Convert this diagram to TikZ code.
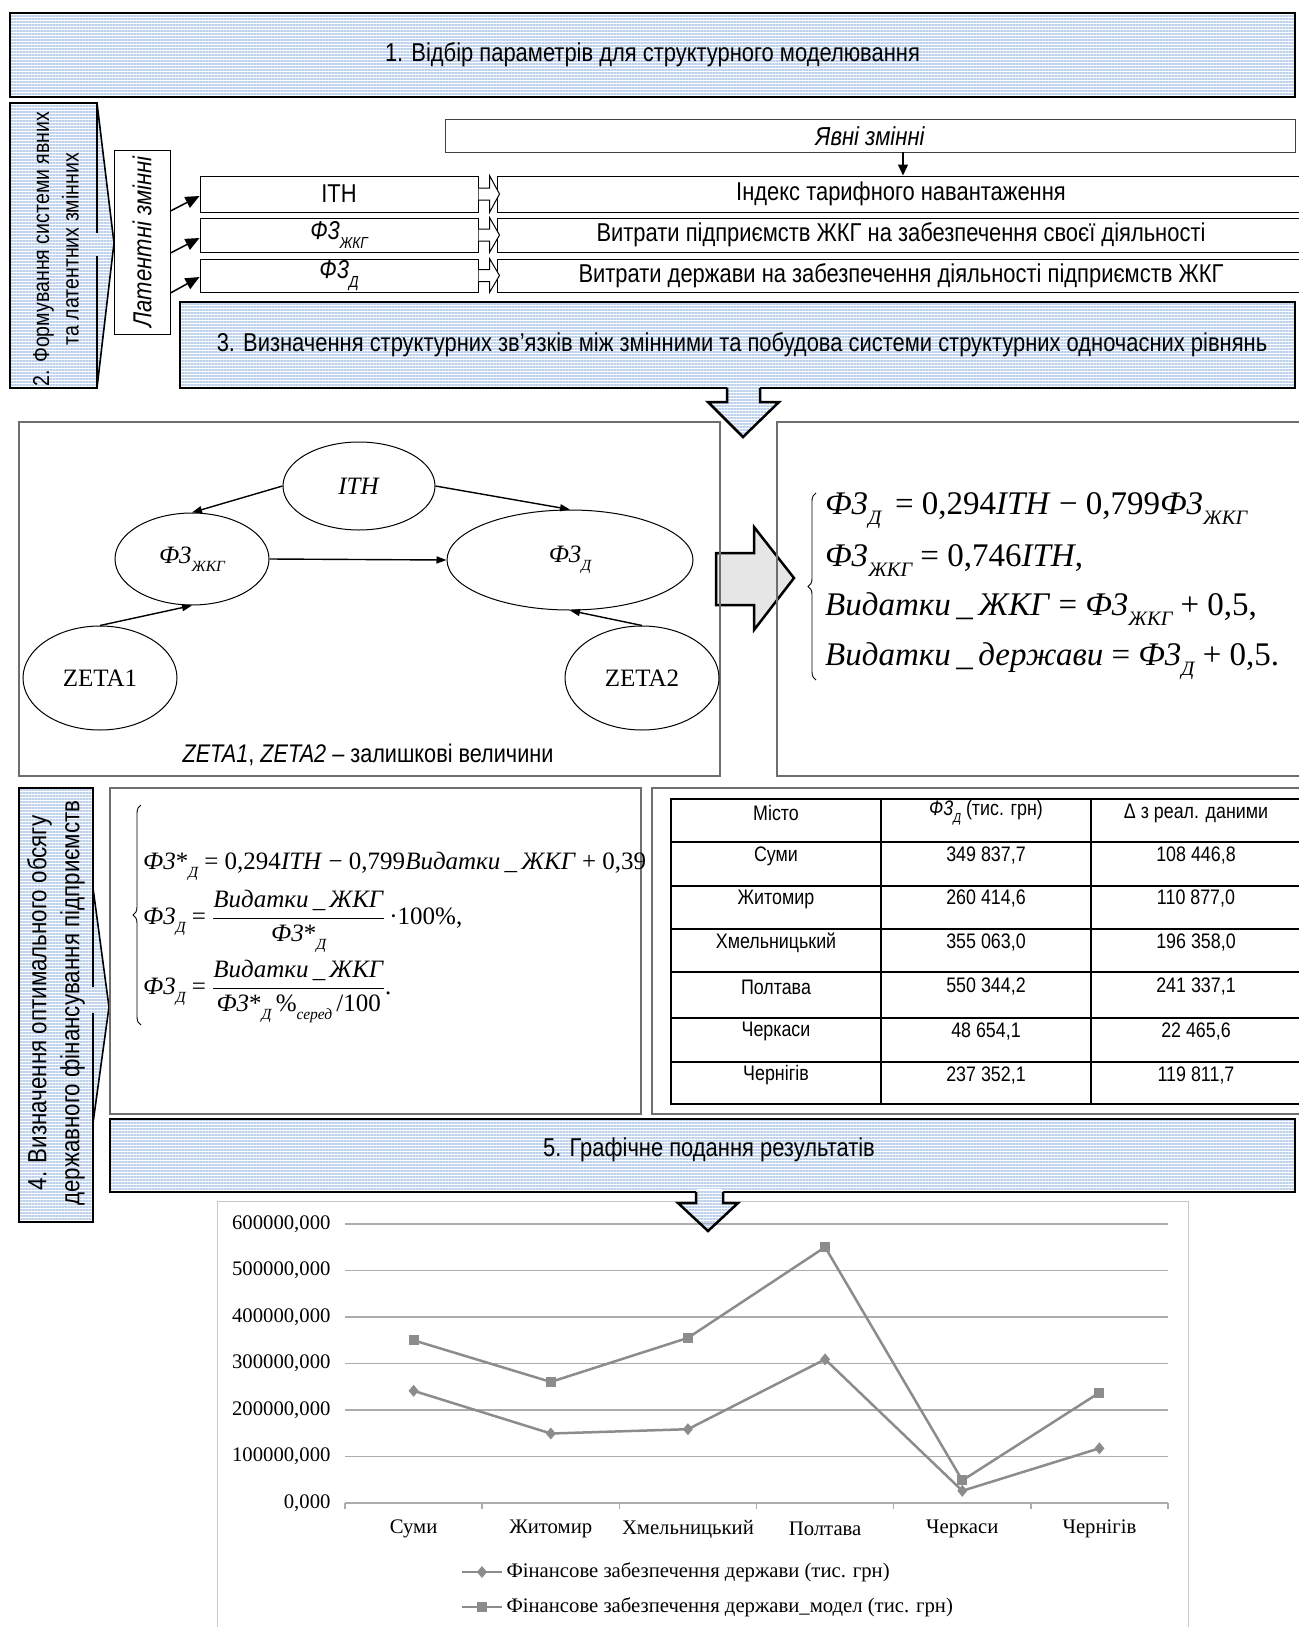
\documentclass[tikz,border=0pt]{standalone}
\usepackage{fontspec}
\setmainfont{Liberation Sans}[FakeStretch=0.85]
\newfontfamily\tnr{Liberation Serif}
\usepackage{graphicx}
\usetikzlibrary{arrows.meta,shapes.geometric,patterns.meta,calc,decorations.pathreplacing}

\definecolor{stripecol}{RGB}{190,210,236}
\definecolor{gridc}{RGB}{172,172,172}
\definecolor{framec}{RGB}{200,200,200}
\definecolor{serc}{RGB}{140,140,140}
\definecolor{boxgrey}{RGB}{110,110,110}
\definecolor{arrowgrey}{RGB}{230,230,230}

\newcommand\fsz[2]{\fontsize{#1}{#2}\selectfont}
\newcommand\sbs[1]{\raisebox{-0.32em}{\scalebox{0.62}{\itshape #1}}}
\newcommand\vF{\textit{Ф3}}

\begin{document}
\begin{tikzpicture}[x=1pt,y=-1pt,
  heavy/.style={draw=black,line width=2.5pt},
  stripefill/.style={pattern={Lines[angle=0,distance=3pt,line width=1.4pt]},pattern color=stripecol},
  bigbox/.style={heavy,stripefill,inner sep=0pt},
  thinbox/.style={draw=black,line width=1pt,fill=white,inner sep=0pt},
  greybox/.style={draw=boxgrey,line width=1.2pt,inner sep=0pt},
  ell/.style={ellipse,draw=black,line width=1pt,inner sep=0pt},
  earr/.style={line width=1.4pt,-{Triangle[length=10pt,width=7pt]}},
  latarr/.style={line width=1.5pt,-{Triangle[length=14pt,width=12pt]}},
  sans/.style={font=\fsz{25.8}{30}},
  chev/.style={draw=black,line width=1pt,fill=white},
  brc/.style={decorate,decoration={brace,amplitude=8pt},line width=0.9pt},
  ser/.style={draw=serc,line width=2.5pt,line join=round},
  chtxt/.style={font=\tnr\fsz{20.7}{24}},
]
\useasboundingbox (0,0) rectangle (1298,1627);

% ---------- box 1
\node[bigbox,minimum width=1285pt,minimum height=84pt,sans] (b1) at (652.5,55) {1. Відбір параметрів для структурного моделювання};

% ---------- box 2 (callout)
\path[stripefill] (10,103) -- (97,103) -- (114,243) -- (97,388) -- (10,388) -- cycle;
\draw[heavy] (97,233) -- (97,103) -- (10,103) -- (10,388) -- (97,388) -- (97,256);
\draw[line width=1.6pt] (97,103) -- (114,243) -- (97,388);
\node[rotate=90,align=center,font=\fsz{23}{29.5}] (b2t) at (56,249) {2. Формування системи явних\\та латентних змінних};

% ---------- latent variables
\node[thinbox,minimum width=56pt,minimum height=184pt] (lat) at (142,242) {};
\node[rotate=90,font=\itshape\fsz{26}{30}] (latt) at (lat.center) {Латентні змінні};

% ---------- explicit variables
\node[thinbox,draw=black!75,minimum width=850pt,minimum height=32pt,font=\itshape\fsz{26}{30}] (expl) at (870,136) {Явні змінні};

% ---------- rows
\node[thinbox,minimum width=278pt,minimum height=36pt,sans] (ith) at (339,194) {ITH};
\node[thinbox,minimum width=278pt,minimum height=34pt,sans] (fzb) at (339,235) {\textit{Ф3}\sbs{ЖКГ}};
\node[thinbox,minimum width=278pt,minimum height=33pt,sans] (fdb) at (339,275.5) {\textit{Ф3}\sbs{Д}};

\node[thinbox,minimum width=808pt,minimum height=36pt,sans] (rith) at (901,194) {Індекс тарифного навантаження};
\node[thinbox,minimum width=808pt,minimum height=34pt,sans] (rfz) at (901,235) {Витрати підприємств ЖКГ на забезпечення своєї діяльності};
\node[thinbox,minimum width=808pt,minimum height=33pt,sans] (rfd) at (901,275.5) {Витрати держави на забезпечення діяльності підприємств ЖКГ};

% chevron connectors
\foreach \l/\r in {ith/rith,fzb/rfz,fdb/rfd}{
  \draw[chev] ($(\l.east)+(0,-6)$) -- ($(\l.east)+(11,-6)$) -- ($(\l.north east)+(11,0)$)
     -- ($(\r.west)+(3,0)$) -- ($(\l.south east)+(11,0)$) -- ($(\l.east)+(11,6)$) -- ($(\l.east)+(0,6)$);
}

\coordinate (ea) at (903,152);
\draw[line width=1.3pt,-{Triangle[length=11pt,width=10pt]}] (ea) -- (ea |- rith.north);

\draw[latarr] (lat.east |- 0,211) -- (ith.west |- 0,196);
\draw[latarr] (lat.east |- 0,253) -- (fzb.west |- 0,238);
\draw[latarr] (lat.east |- 0,293) -- (fdb.west |- 0,277);

% ---------- box 3
\node[bigbox,minimum width=1115pt,minimum height=86pt,sans] (b3) at (737.5,345) {\hspace*{9pt}3. Визначення структурних зв’язків між змінними та побудова системи структурних одночасних рівнянь};

% arrow under box 3
\fill[white] (728.3,385.5) rectangle (758.7,391);
\path[stripefill] (727,386) -- (727,402) -- (708,402) -- (743,437) -- (779,402) -- (760,402) -- (760,386) -- cycle;
\draw[heavy,line join=miter] (727,388) -- (727,402) -- (708,402) -- (743,437) -- (779,402) -- (760,402) -- (760,388);

% ---------- big grey arrow (under the box borders)
\draw[line width=2.5pt,fill=arrowgrey] (716,553) -- (754,553) -- (754,527) -- (794,578) -- (754,630) -- (754,605) -- (716,605) -- cycle;

% ---------- diagram box
\node[greybox,minimum width=701pt,minimum height=354pt] (dg) at (369.5,599) {};
\node[greybox,minimum width=530pt,minimum height=354pt] (fr) at (1042,599) {};

\node[ell,minimum width=152pt,minimum height=88pt,font=\tnr\fsz{25}{30}] (eith) at (359,486) {\textit{ITH}};
\node[ell,minimum width=154pt,minimum height=92pt,font=\tnr\fsz{25}{30}] (efz) at (192,559) {\textit{Ф3}\sbs{ЖКГ}};
\node[ell,minimum width=246pt,minimum height=100pt,font=\tnr\fsz{25}{30}] (efd) at (570,560) {\textit{Ф3}\sbs{Д}};
\node[ell,minimum width=154pt,minimum height=104pt,font=\tnr\fsz{25}{30}] (ez1) at (100,678) {ZETA1};
\node[ell,minimum width=154pt,minimum height=104pt,font=\tnr\fsz{25}{30}] (ez2) at (642,678) {ZETA2};

\draw[earr] (eith.west) -- (efz.north);
\draw[earr] (eith.east) -- (efd.north);
\draw[earr] (efz.east) -- (efd.west);
\draw[earr] (ez1.north) -- (efz.south);
\draw[earr] (ez2.north) -- (efd.south);

\node[font=\fsz{25.5}{30}] (cap) at (368,755) {\textit{ZETA1}, \textit{ZETA2} – залишкові величини};

% ---------- right formulas
\draw[brc] (816,680) -- (816,493);
\begin{scope}[every node/.style={anchor=base west,inner sep=0pt,font=\tnr\fsz{33}{40}}]
\node (r1) at (825,514) {\vF\sbs{Д}\ \,= 0,294\textit{ITH} − 0,799\vF\sbs{ЖКГ}};
\node (r2) at (825,566) {\vF\sbs{ЖКГ}\ = 0,746\textit{ITH},};
\node (r3) at (825,615) {\textit{Видатки\,\_\,ЖКГ} = \vF\sbs{ЖКГ} + 0,5,};
\node (r4) at (825,665) {\textit{Видатки\,\_\,держави} = \vF\sbs{Д} + 0,5.};
\end{scope}

% ---------- box 4 (callout)
\path[stripefill] (19,788) -- (93,788) -- (93,888) -- (109,1007) -- (93,1123) -- (93,1222) -- (19,1222) -- cycle;
\draw[heavy] (93,987) -- (93,788) -- (19,788) -- (19,1222) -- (93,1222) -- (93,1013);
\draw[line width=1.6pt] (93,888) -- (109,1007) -- (93,1123);
\node[rotate=90,align=center,font=\fsz{26.3}{33}] (b4t) at (56,1003) {4. Визначення оптимального обсягу\\державного фінансування підприємств};

% ---------- lower formulas
\node[greybox,minimum width=531pt,minimum height=326pt] (fl) at (375.5,951) {};
\draw[brc] (141,1025) -- (141,805);
\begin{scope}[every node/.style={anchor=base west,inner sep=0pt,font=\tnr\fsz{25}{30}}]
\node (l1) at (143,869) {\vF*\sbs{Д} = 0,294\textit{ITH} − 0,799\textit{Видатки\,\_\,ЖКГ} + 0,39};
\node (l2) at (143,924) {\vF\sbs{Д} = $\displaystyle\frac{\hbox{\textit{Видатки\,\_\,ЖКГ}}}{\hbox{\vF*\sbs{Д}}}$\,·100\%,};
\node (l3) at (143,994) {\vF\sbs{Д} = $\displaystyle\frac{\hbox{\textit{Видатки\,\_\,ЖКГ}}}{\hbox{\vF*\sbs{Д}\,\%\sbs{серед}\,/100}}$.};
\end{scope}

% ---------- table
\node[greybox,minimum width=655pt,minimum height=326pt] (tbx) at (979.5,951) {};
\draw[line width=1.2pt] (671,799) rectangle (1310,1104);
\foreach \xx in {881,1091} \draw[line width=1.2pt] (\xx,799) -- (\xx,1104);
\foreach \yy in {842,886,929,972,1018,1062} \draw[line width=1.2pt] (671,\yy) -- (1310,\yy);
\begin{scope}[every node/.style={font=\fsz{21}{25}}]
\foreach \a/\b/\c/\yy/\n in {
  {Місто}/{\textit{Ф3}\sbs{Д} (тис. грн)}/{Δ з реал. даними}/813/0,
  {Суми}/{349 837,7}/{108 446,8}/856/1,
  {Житомир}/{260 414,6}/{110 877,0}/899/2,
  {Хмельницький}/{355 063,0}/{196 358,0}/943/3,
  {Полтава}/{550 344,2}/{241 337,1}/987/4,
  {Черкаси}/{48 654,1}/{22 465,6}/1031/5,
  {Чернігів}/{237 352,1}/{119 811,7}/1075/6}{
  \node (ta\n) at (776,\yy) {\a};
  \node (tb\n) at (986,\yy) {\b};
  \node (tc\n) at (1196,\yy) {\c};
}
\end{scope}

% ---------- box 5
\node[bigbox,minimum width=1185pt,minimum height=73pt] (b5) at (702.5,1155.5) {};
\node[sans] (b5t) at (709,1150) {5. Графічне подання результатів};

% ---------- chart
\draw[draw=framec,line width=1pt] (217,1201) rectangle (1188,1650);
\foreach \v/\lab in {0/{0,000},1/{100000,000},2/{200000,000},3/{300000,000},4/{400000,000},5/{500000,000},6/{600000,000}}{
  \draw[gridc,line width=1.6pt] (345,1503-46.5*\v) -- (1168,1503-46.5*\v);
  \node[chtxt,anchor=east] (yl\v) at (334,1503-46.5*\v) {\lab};
}
\foreach \i in {0,...,6} \draw[gridc,line width=1.5pt] (345+137.17*\i,1503) -- (345+137.17*\i,1509);
\foreach \lab [count=\i from 0] in {Суми,Житомир,Хмельницький,Полтава,Черкаси,Чернігів}
  \node[chtxt] (cx\i) at (413.6+137.17*\i,1529) {\lab};

\draw[ser] (413.6,1390.8) -- (550.8,1433.5) -- (687.9,1429.2) -- (825.1,1359.3) -- (962.3,1490.8) -- (1099.4,1448.3);
\draw[ser] (413.6,1340.3) -- (550.8,1381.9) -- (687.9,1337.9) -- (825.1,1247.1) -- (962.3,1480.4) -- (1099.4,1392.6);
\foreach \xx/\yy in {413.6/1390.8,550.8/1433.5,687.9/1429.2,825.1/1359.3,962.3/1490.8,1099.4/1448.3}
  \fill[serc] (\xx,\yy-6) -- (\xx+5,\yy) -- (\xx,\yy+6) -- (\xx-5,\yy) -- cycle;
\foreach \xx/\yy in {413.6/1340.3,550.8/1381.9,687.9/1337.9,825.1/1247.1,962.3/1480.4,1099.4/1392.6}
  \fill[serc] (\xx-5,\yy-5) rectangle (\xx+5,\yy+5);

\draw[ser] (462,1572) -- (502,1572);
\fill[serc] (482,1566) -- (487,1572) -- (482,1578) -- (477,1572) -- cycle;
\node[chtxt,anchor=west] (lg1) at (503,1572) {Фінансове забезпечення держави (тис. грн)};
\draw[ser] (462,1607) -- (502,1607);
\fill[serc] (477,1602) rectangle (487,1612);
\node[chtxt,anchor=west] (lg2) at (503,1607) {Фінансове забезпечення держави\_модел (тис. грн)};

% arrow under box 5
\fill[white] (697.3,1189) rectangle (721.7,1194);
\path[stripefill] (696,1190) -- (696,1203) -- (678,1203) -- (708,1231) -- (738,1203) -- (723,1203) -- (723,1190) -- cycle;
\draw[heavy,line join=miter] (696,1192) -- (696,1203) -- (678,1203) -- (708,1231) -- (738,1203) -- (723,1203) -- (723,1192);

\end{tikzpicture}
\end{document}
